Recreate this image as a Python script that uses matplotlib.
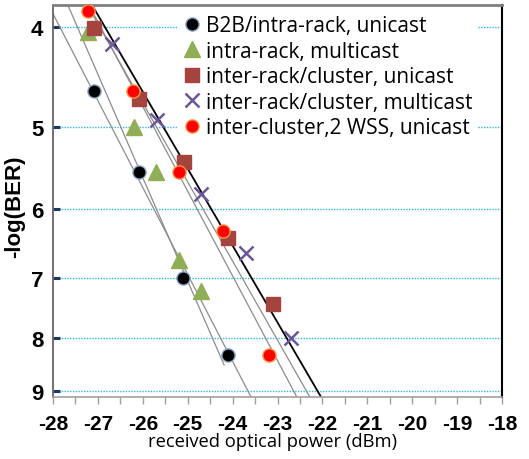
import matplotlib
matplotlib.use('Agg')
import matplotlib.pyplot as plt
from matplotlib.ticker import FixedLocator, NullLocator, FixedFormatter, MultipleLocator

plt.rcParams['font.family'] = ['Open Sans', 'DejaVu Sans']
plt.rcParams['axes.unicode_minus'] = False

b2b_x = [-27.09, -26.08, -25.10, -24.10]
b2b_y = [4.61, 5.52, 7.0, 8.30]
intra_mc_x = [-27.21, -26.20, -25.71, -25.19, -24.70]
intra_mc_y = [4.05, 5.0, 5.52, 6.72, 7.20]
inter_uc_x = [-27.09, -26.08, -25.08, -24.10, -23.10]
inter_uc_y = [4.01, 4.70, 5.40, 6.40, 7.41]
inter_mc_x = [-26.69, -25.68, -24.70, -23.70, -22.70]
inter_mc_y = [4.16, 4.92, 5.80, 6.62, 8.0]
wss_x = [-27.21, -26.22, -25.19, -24.21, -23.19]
wss_y = [3.86, 4.61, 5.52, 6.30, 8.30]

# trend lines (end points)
fit1_x, fit1_y = [-28.0, -23.59], [3.885, 9.12]
fit2_x, fit2_y = [-27.67, -24.19], [3.81, 8.49]
fit3_x, fit3_y = [-27.20, -22.57], [3.81, 9.12]
fit4_x, fit4_y = [-27.24, -22.28], [3.81, 9.12]
fit5_x, fit5_y = [-27.13, -22.03], [3.81, 9.12]

yticks = [4, 5, 6, 7, 8, 9]
xticks = [-28, -27, -26, -25, -24, -23, -22, -21, -20, -19, -18]

fig = plt.figure(figsize=(5.29, 4.60), dpi=100)
ax = fig.add_axes([53/529, 1-398/460, 449/529, 392/460])

ax.set_yscale('log')
ax.set_ylim(9.12, 3.81)
ax.set_xlim(-28, -18)

# grid lines
for t in yticks:
    ax.axhline(t, color='#33B5E5', lw=1.0, ls=(0, (1, 1)), zorder=1)

gris = '#8C8C8C'
for fx, fy in [(fit1_x, fit1_y), (fit2_x, fit2_y), (fit3_x, fit3_y), (fit4_x, fit4_y)]:
    ax.plot(fx, fy, color=gris, lw=0.9, zorder=2)
ax.plot(fit5_x, fit5_y, color='black', lw=1.3, zorder=2)

ax.plot(b2b_x, b2b_y, 'o', ms=9.5, mfc='black', mec='#8EA9C8', mew=1.0, ls='none',
        label='B2B/intra-rack, unicast', zorder=4)
ax.plot(intra_mc_x, intra_mc_y, '^', ms=11, mfc='#8FAE55', mec='#8FAE55', ls='none',
        label='intra-rack, multicast', zorder=4)
ax.plot(inter_uc_x, inter_uc_y, 's', ms=9.5, mfc='#A5443F', mec='#A5443F', ls='none',
        label='inter-rack/cluster, unicast', zorder=4)
ax.plot(inter_mc_x, inter_mc_y, 'x', ms=10, mec='#6B5796', mew=1.8, ls='none',
        label='inter-rack/cluster, multicast', zorder=4)
ax.plot(wss_x, wss_y, 'o', ms=9.5, mfc='#FF0000', mec='#F79646', mew=1.0, ls='none',
        label='inter-cluster,2 WSS, unicast', zorder=4)

# axes
ax.yaxis.set_major_locator(FixedLocator(yticks))
ax.yaxis.set_major_formatter(FixedFormatter([str(t) for t in yticks]))
ax.yaxis.set_minor_locator(NullLocator())
ax.xaxis.set_major_locator(FixedLocator(xticks))
ax.xaxis.set_major_formatter(FixedFormatter([str(t) for t in xticks]))
ax.xaxis.set_minor_locator(MultipleLocator(0.5))
ax.tick_params(axis='y', which='major', direction='in', length=5, width=2.2,
               color='#1F3A60', pad=7)
ax.tick_params(axis='x', which='both', direction='out', length=5, width=1,
               color='#A0A0A0', pad=7)
for lab in ax.get_xticklabels():
    lab.set_fontfamily('Liberation Sans')
    lab.set_fontweight('bold')
    lab.set_fontsize(15)
for lab in ax.get_yticklabels():
    lab.set_fontfamily('Liberation Sans')
    lab.set_fontweight('bold')
    lab.set_fontsize(16)

ax.spines['top'].set_color('#808080')
ax.spines['top'].set_linewidth(2)
ax.spines['right'].set_color('black')
ax.spines['right'].set_linewidth(1.5)
ax.spines['left'].set_color('#595959')
ax.spines['left'].set_linewidth(1.2)
ax.spines['bottom'].set_color('#A0A0A0')
ax.spines['bottom'].set_linewidth(1.2)

fig.text(15/529, 1-207/460, '-log(BER)', rotation=90, ha='center', va='center',
         fontsize=16, fontweight='bold', family='Liberation Sans')
fig.text(272/529, 1-442/460, 'received optical power (dBm)', ha='center', va='center',
         fontsize=13.2)

leg = ax.legend(loc='upper left', bbox_to_anchor=(177/529, 1-12/460),
                bbox_transform=fig.transFigure, frameon=True, fontsize=15,
                handletextpad=0.2, labelspacing=0.215, borderpad=0.2,
                handlelength=1.0, borderaxespad=0)
leg.get_frame().set_facecolor('white')
leg.get_frame().set_edgecolor('none')
leg.get_frame().set_alpha(1)
leg.set_zorder(3)

plt.savefig('out.png', dpi=100)
